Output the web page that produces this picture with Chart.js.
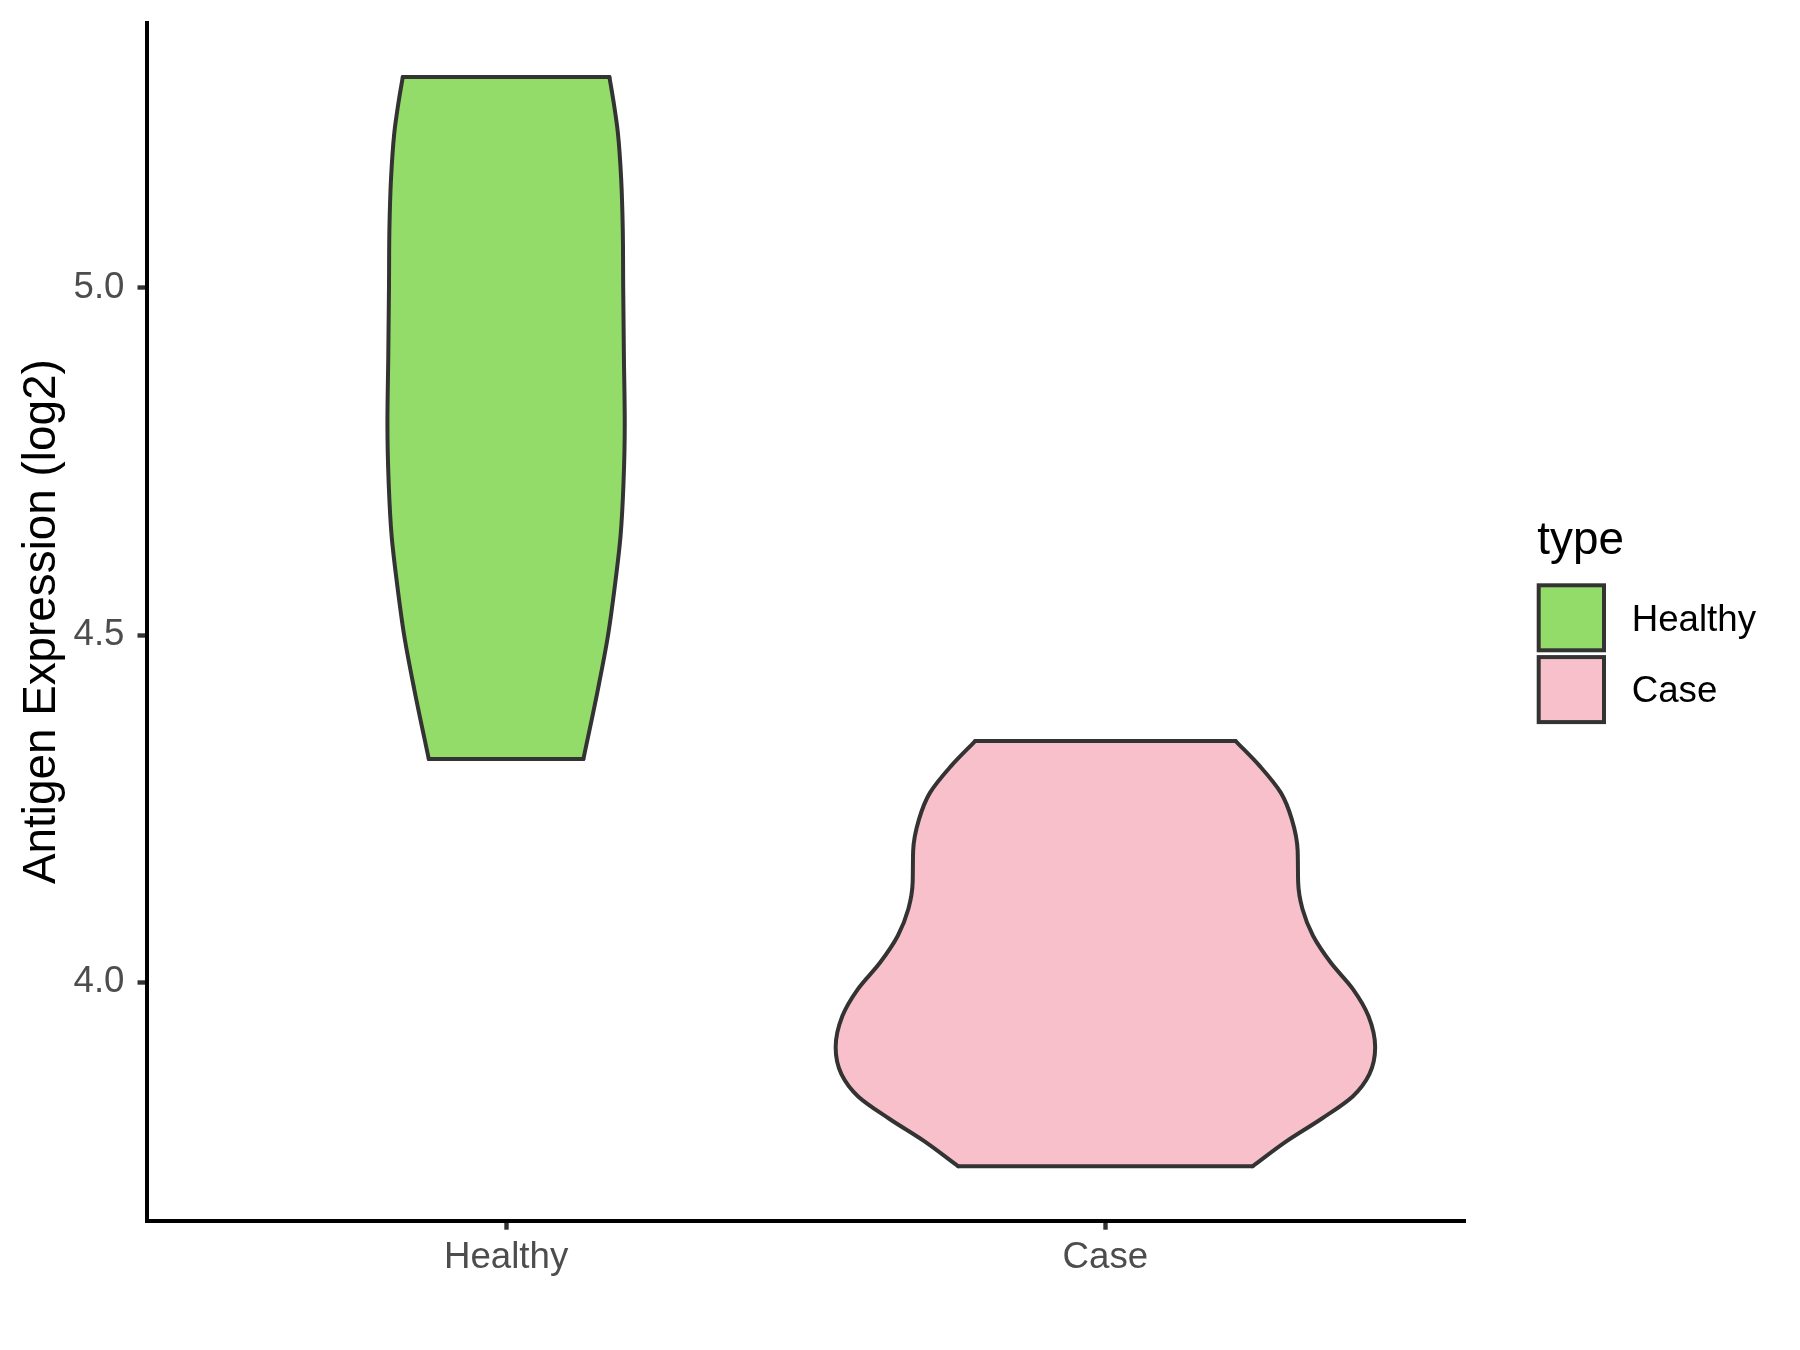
<!DOCTYPE html>
<html>
<head>
<meta charset="utf-8">
<script src="https://cdn.jsdelivr.net/npm/chart.js@4/dist/chart.umd.min.js"></script>
<style>
  html, body { margin: 0; padding: 0; background: #ffffff; }
  canvas { display: block; }
</style>
</head>
<body>
<canvas id="c" width="1800" height="1350"></canvas>
<script>
// ---------------- data ----------------
const categories = ['Healthy', 'Case'];
const legendTitle = 'type';
const yAxisTitle = 'Antigen Expression (log2)';
const yTickValues = [4.0, 4.5, 5.0];
const yMin = 3.6568;
const yMax = 5.3817;

// violin outlines: expression value (y) and half-width of the density (in category units)
const healthyY = [4.3215, 4.4226, 4.4997, 4.5695, 4.6429, 4.7164, 4.8045, 4.9000, 5.0007, 5.0837, 5.1571, 5.2232, 5.2673, 5.3033];
const healthyHalfWidth = [0.129, 0.1534, 0.1701, 0.1813, 0.191, 0.1958, 0.198, 0.1966, 0.1954, 0.1947, 0.192, 0.1865, 0.1794, 0.1724];
const caseY = [3.7352, 3.7714, 3.8036, 3.8357, 3.8678, 3.9064, 3.9514, 3.9899, 4.0285, 4.0671, 4.1056, 4.1442, 4.1892, 4.2342, 4.2727, 4.3113, 4.3474];
const caseHalfWidth = [0.2457, 0.3024, 0.3607, 0.4126, 0.4405, 0.4501, 0.4389, 0.4133, 0.3759, 0.3464, 0.3288, 0.3216, 0.3208, 0.3112, 0.2929, 0.2577, 0.2173];

// ---------------- styles ----------------
const fillColors = ['#94DC6A', '#F7C0CB'];
const outline = '#333333';
const FONT = '"Liberation Sans", Arial, Helvetica, sans-serif';
const tickFontSize = 36.67;
const titleFontSize = 45.83;

Chart.defaults.font.family = FONT;

function violin(index, ys, ws) {
  const c = index + 1;
  const left = ys.map((y, i) => ({ x: c - ws[i], y }));
  const right = ys.map((y, i) => ({ x: c + ws[i], y }));
  const n = ys.length - 1;
  const base = {
    borderColor: outline,
    borderWidth: 4,
    borderCapStyle: 'round',
    borderJoinStyle: 'round',
    pointRadius: 0,
    cubicInterpolationMode: 'monotone',
  };
  return [
    Object.assign({}, base, { label: categories[index] + ' left', data: left, fill: '+1', backgroundColor: fillColors[index] }),
    Object.assign({}, base, { label: categories[index] + ' right', data: right, fill: false }),
    Object.assign({}, base, { label: categories[index] + ' bottom', data: [left[0], right[0]], fill: false, cubicInterpolationMode: 'default', tension: 0 }),
    Object.assign({}, base, { label: categories[index] + ' top', data: [left[n], right[n]], fill: false, cubicInterpolationMode: 'default', tension: 0 }),
  ];
}

const datasets = [].concat(
  violin(0, healthyY, healthyHalfWidth),
  violin(1, caseY, caseHalfWidth)
);

const legendPlugin = {
  id: 'typeLegend',
  afterDraw(chart) {
    const ctx = chart.ctx;
    ctx.save();
    ctx.textBaseline = 'alphabetic';
    ctx.textAlign = 'left';
    ctx.fillStyle = '#000000';
    ctx.font = titleFontSize + 'px ' + FONT;
    ctx.fillText(legendTitle, 1537.3, 554);
    categories.forEach((cat, i) => {
      const top = 585.3 + i * 71.8;
      ctx.fillStyle = fillColors[i];
      ctx.fillRect(1538.7, top, 65.3, 65);
      ctx.lineWidth = 4;
      ctx.strokeStyle = outline;
      ctx.strokeRect(1538.7, top, 65.3, 65);
      ctx.fillStyle = '#000000';
      ctx.font = tickFontSize + 'px ' + FONT;
      ctx.fillText(cat, 1631.7, 630.7 + i * 71.4);
    });
    ctx.restore();
  }
};

function noPadding(s) {
  s.paddingTop = 0; s.paddingBottom = 0; s.paddingLeft = 0; s.paddingRight = 0;
}

new Chart(document.getElementById('c'), {
  type: 'line',
  data: { datasets },
  plugins: [legendPlugin],
  options: {
    indexAxis: 'y',
    responsive: false,
    animation: false,
    events: [],
    layout: { padding: { left: 0, right: 335, top: 22.6, bottom: 0 } },
    plugins: {
      legend: { display: false },
      tooltip: { enabled: false },
      filler: { drawTime: 'beforeDatasetsDraw' }
    },
    elements: { point: { radius: 0 } },
    scales: {
      x: {
        type: 'linear',
        position: 'bottom',
        min: 0.4,
        max: 2.6,
        grid: { drawOnChartArea: false, drawTicks: true, tickLength: 9, tickWidth: 4.4, tickColor: outline },
        border: { display: true, color: '#000000', width: 4 },
        ticks: {
          font: { size: tickFontSize, family: FONT },
          color: '#4D4D4D',
          padding: 6,
          maxRotation: 0,
          autoSkip: false,
          callback: (v) => categories[Math.round(v) - 1]
        },
        afterBuildTicks: (s) => { s.ticks = categories.map((_, i) => ({ value: i + 1 })); },
        afterFit: (s) => { s.height = 1350 - 1220.7; noPadding(s); }
      },
      y: {
        type: 'linear',
        position: 'left',
        min: yMin,
        max: yMax,
        grid: { drawOnChartArea: false, drawTicks: true, tickLength: 9, tickWidth: 4.4, tickColor: outline },
        border: { display: true, color: '#000000', width: 4 },
        ticks: {
          font: { size: tickFontSize, family: FONT },
          color: '#4D4D4D',
          padding: 13,
          autoSkip: false,
          callback: (v) => Number(v).toFixed(1)
        },
        afterBuildTicks: (s) => { s.ticks = yTickValues.map(v => ({ value: v })); },
        afterFit: (s) => { s.width = 146.5; noPadding(s); },
        title: {
          display: true,
          text: yAxisTitle,
          color: '#000000',
          font: { size: titleFontSize, family: FONT },
          padding: { top: 15, bottom: 0 }
        }
      }
    }
  }
});
</script>
</body>
</html>
